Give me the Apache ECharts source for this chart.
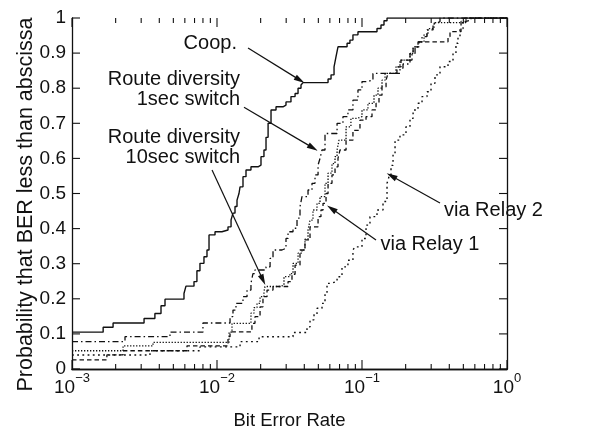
<!DOCTYPE html>
<html>
<head>
<meta charset="utf-8">
<script src="https://cdn.jsdelivr.net/npm/echarts@6/dist/echarts.min.js"></script>
<style>
  html, body { margin: 0; padding: 0; background: #fff; }
  #chart { width: 602px; height: 431px; }
</style>
</head>
<body>
<div id="chart"></div>
<script>
// Empirical CDFs of the bit error rate: each point is (BER where the step occurs, probability after the step)
const coopBer = [0.0010, 0.00164, 0.00192, 0.00314, 0.00373, 0.00411, 0.00438, 0.00592, 0.00611, 0.00694, 0.00727, 0.00763, 0.00813, 0.00853, 0.00881, 0.00969, 0.01081, 0.01191, 0.01250, 0.01289, 0.01331, 0.01374, 0.01418, 0.01442, 0.01511, 0.01585, 0.01715, 0.01918, 0.02011, 0.02108, 0.02178, 0.02251, 0.02358, 0.02553, 0.02851, 0.02991, 0.03237, 0.03455, 0.03622, 0.03796, 0.03918, 0.05833, 0.06116, 0.06415, 0.06620, 0.06830, 0.07890, 0.08257, 0.08661, 0.09380, 0.1269, 0.1352, 0.1418, 0.1488, 1.0];
const coopProb = [0.105, 0.119, 0.131, 0.144, 0.158, 0.18, 0.199, 0.215, 0.236, 0.249, 0.28, 0.301, 0.32, 0.339, 0.382, 0.391, 0.396, 0.405, 0.425, 0.444, 0.463, 0.481, 0.50, 0.519, 0.548, 0.567, 0.576, 0.581, 0.605, 0.624, 0.66, 0.70, 0.738, 0.747, 0.752, 0.761, 0.776, 0.785, 0.80, 0.809, 0.816, 0.826, 0.838, 0.861, 0.89, 0.918, 0.928, 0.937, 0.952, 0.961, 0.970, 0.980, 0.992, 1.0, 1.0];

const rd1Ber = [0.0010, 0.00232, 0.00474, 0.00800, 0.01230, 0.01289, 0.01352, 0.01511, 0.01611, 0.01715, 0.01770, 0.01828, 0.02178, 0.02323, 0.02434, 0.02806, 0.02991, 0.03090, 0.03344, 0.03563, 0.03736, 0.03855, 0.04244, 0.04521, 0.04742, 0.04977, 0.05134, 0.05298, 0.05558, 0.06730, 0.07390, 0.0800, 0.08661, 0.09380, 0.1000, 0.1083, 0.1190, 0.1828, 0.1918, 0.2143, 0.2213, 0.2322, 0.2434, 0.2594, 0.2808, 0.3090, 0.3290, 0.3451, 1.0];
const rd1Prob = [0.078, 0.092, 0.105, 0.131, 0.149, 0.168, 0.187, 0.206, 0.225, 0.244, 0.272, 0.282, 0.291, 0.315, 0.339, 0.344, 0.372, 0.391, 0.401, 0.43, 0.462, 0.491, 0.51, 0.529, 0.553, 0.581, 0.60, 0.624, 0.671, 0.70, 0.719, 0.738, 0.766, 0.795, 0.819, 0.823, 0.842, 0.857, 0.869, 0.880, 0.899, 0.918, 0.932, 0.947, 0.966, 0.985, 0.99, 1.0, 1.0];

const rd10Ber = [0.0010, 0.00225, 0.00362, 0.01211, 0.01269, 0.01715, 0.01799, 0.01888, 0.01981, 0.02108, 0.02143, 0.02718, 0.02897, 0.03183, 0.03344, 0.03622, 0.03855, 0.04043, 0.04244, 0.04380, 0.04592, 0.04894, 0.05134, 0.05558, 0.05833, 0.06209, 0.06516, 0.06730, 0.06941, 0.07762, 0.08388, 0.09245, 0.1000, 0.1099, 0.1210, 0.1289, 0.1374, 0.1442, 0.1716, 0.1828, 0.2143, 0.2251, 0.2434, 0.2678, 0.2851, 0.3142, 0.5215, 1.0];
const rd10Prob = [0.052, 0.066, 0.076, 0.105, 0.13, 0.159, 0.175, 0.187, 0.206, 0.22, 0.235, 0.239, 0.263, 0.272, 0.301, 0.33, 0.339, 0.37, 0.396, 0.424, 0.453, 0.472, 0.491, 0.529, 0.558, 0.585, 0.605, 0.624, 0.652, 0.69, 0.714, 0.719, 0.738, 0.757, 0.78, 0.80, 0.823, 0.842, 0.861, 0.880, 0.899, 0.918, 0.932, 0.952, 0.97, 0.987, 1.0, 1.0];

const relay1Ber = [0.0010, 0.00174, 0.00225, 0.00621, 0.01191, 0.01230, 0.01741, 0.01828, 0.01981, 0.02075, 0.02213, 0.02434, 0.03090, 0.03290, 0.03455, 0.03736, 0.04043, 0.04380, 0.04977, 0.05212, 0.05385, 0.05649, 0.05833, 0.06209, 0.06516, 0.06830, 0.07050, 0.07762, 0.08661, 0.09683, 0.1066, 0.1172, 0.1250, 0.1310, 0.1374, 0.1465, 0.1511, 0.1742, 0.1858, 0.2143, 0.2251, 0.2473, 0.3919, 0.4046, 0.4819, 0.5134, 0.5649, 1.0];
const relay1Prob = [0.026, 0.040, 0.052, 0.066, 0.092, 0.106, 0.13, 0.149, 0.177, 0.206, 0.225, 0.235, 0.249, 0.27, 0.296, 0.339, 0.368, 0.405, 0.434, 0.453, 0.472, 0.50, 0.529, 0.553, 0.576, 0.60, 0.624, 0.652, 0.68, 0.709, 0.719, 0.738, 0.757, 0.78, 0.804, 0.823, 0.842, 0.861, 0.880, 0.899, 0.918, 0.932, 0.947, 0.961, 0.99, 0.994, 1.0, 1.0];

const relay2Ber = [0.0010, 0.00345, 0.00763, 0.01442, 0.01950, 0.03344, 0.04175, 0.04380, 0.04668, 0.04894, 0.05298, 0.05558, 0.05738, 0.06017, 0.06730, 0.07278, 0.0800, 0.08661, 0.0894, 0.1000, 0.1066, 0.1135, 0.1269, 0.1396, 0.1488, 0.1535, 0.1585, 0.1637, 0.1690, 0.1828, 0.2011, 0.2143, 0.2251, 0.2434, 0.2594, 0.2808, 0.2992, 0.3187, 0.3451, 0.3919, 0.4243, 0.4446, 0.4592, 0.4742, 0.4977, 0.5134, 1.0];
const relay2Prob = [0.040, 0.052, 0.063, 0.078, 0.092, 0.104, 0.12, 0.14, 0.155, 0.173, 0.187, 0.215, 0.244, 0.249, 0.263, 0.291, 0.31, 0.339, 0.348, 0.372, 0.41, 0.434, 0.453, 0.477, 0.529, 0.548, 0.58, 0.614, 0.652, 0.667, 0.69, 0.714, 0.738, 0.757, 0.776, 0.79, 0.814, 0.838, 0.861, 0.876, 0.899, 0.928, 0.947, 0.97, 0.99, 1.0, 1.0];

// Axis tick values
const xMajorTicks = [0.001, 0.01, 0.1, 1];
const yTicks = [0, 0.1, 0.2, 0.3, 0.4, 0.5, 0.6, 0.7, 0.8, 0.9, 1];

// Curve annotations: label text, anchor in data units, and the arrow from the label to its curve
const labelTexts = ['Coop.', 'Route diversity\n1sec switch', 'Route diversity\n10sec switch', 'via Relay 1', 'via Relay 2'];
const labelAnchors = [[0.01373, 0.926], [0.01442, 0.795], [0.01442, 0.631], [0.1341, 0.356], [0.3677, 0.453]];
const labelAlign = ['right', 'right', 'right', 'left', 'left'];
const arrowFrom = [[0.01637, 0.9145], [0.01535, 0.746], [0.009243, 0.567], [0.1249, 0.3675], [0.3451, 0.473]];
const arrowTo = [[0.03732, 0.823], [0.04592, 0.630], [0.02075, 0.2536], [0.06163, 0.457], [0.1597, 0.550]];

const FONT = '"Liberation Sans", Arial, Helvetica, sans-serif';
const INK = '#111';
const MAJOR_LEN = 9, MINOR_LEN = 5, Y_LEN = 8;

const zip = (xs, ys) => xs.map((x, i) => [x, ys[i]]);

// minor decade positions 2..9 x 10^k
const xMinorTicks = [];
for (let k = -3; k < 0; k++) {
  for (let m = 2; m <= 9; m++) xMinorTicks.push(m * Math.pow(10, k));
}

const supLabel = v => {
  const e = Math.round(Math.log10(v));
  return '{b|10}{s|' + (e < 0 ? '\u2212' + (-e) : String(e)) + '}';
};

const xCommon = {
  type: 'log', logBase: 10, min: 0.001, max: 1,
  splitLine: { show: false },
  minorTick: { show: false },
  axisLine: { show: true, lineStyle: { color: INK, width: 1.3 } },
  axisTick: { show: false }
};
const yCommon = {
  type: 'value', min: 0, max: 1, interval: 0.1,
  splitLine: { show: false },
  axisLine: { show: true, lineStyle: { color: INK, width: 1.3 } },
  axisTick: { show: false }
};

const lineSeries = (name, xs, ys, type, width) => ({
  name, type: 'line', step: 'end', showSymbol: false, symbol: 'none',
  data: zip(xs, ys), silent: true, z: 3,
  lineStyle: { color: INK, width: width, type: type }
});

const chart = echarts.init(document.getElementById('chart'), null, { renderer: 'canvas' });

const option = {
  animation: false,
  backgroundColor: '#fff',
  grid: { left: 72, right: 95, top: 18, bottom: 62, containLabel: false, outerBoundsMode: 'none' },
  xAxis: [
    Object.assign({}, xCommon, {
      position: 'bottom',
      axisLabel: {
        margin: 8, formatter: supLabel, color: INK,
        rich: {
          b: { fontSize: 19, fontFamily: FONT, color: INK, lineHeight: 20, verticalAlign: 'bottom' },
          s: { fontSize: 13, fontFamily: FONT, color: INK, lineHeight: 14, verticalAlign: 'bottom', padding: [0, 0, 12, 0] }
        }
      },
      name: 'Bit Error Rate', nameLocation: 'middle', nameGap: 42, nameMoveOverlap: false,
      nameTextStyle: { fontSize: 18.5, fontFamily: FONT, color: INK }
    }),
    Object.assign({}, xCommon, { position: 'top', axisLabel: { show: false } })
  ],
  yAxis: [
    Object.assign({}, yCommon, {
      position: 'left',
      axisLabel: { margin: 6, fontSize: 19, fontFamily: FONT, color: INK, formatter: v => String(+v.toFixed(1)) },
      name: 'Probability that BER less than abscissa', nameLocation: 'middle', nameGap: 35, nameMoveOverlap: false,
      nameTextStyle: { fontSize: 21.5, fontFamily: FONT, color: INK, padding: [0, 22, 0, 0] }
    }),
    Object.assign({}, yCommon, { position: 'right', axisLabel: { show: false } })
  ],
  series: [
    Object.assign(lineSeries('Coop.', coopBer, coopProb, 'solid', 1.4), {
      markLine: {
        silent: true, animation: false,
        symbol: ['none', 'triangle'], symbolSize: [6, 11],
        label: { show: false },
        lineStyle: { color: INK, width: 1.2, type: 'solid' },
        emphasis: { disabled: true },
        data: arrowFrom.map((a, i) => [{ coord: a }, { coord: arrowTo[i] }])
      }
    }),
    lineSeries('Route diversity 1sec switch', rd1Ber, rd1Prob, [6, 3, 1.5, 3], 1.3),
    lineSeries('Route diversity 10sec switch', rd10Ber, rd10Prob, [1.3, 1.7], 1.3),
    lineSeries('via Relay 1', relay1Ber, relay1Prob, [4.5, 3], 1.3),
    lineSeries('via Relay 2', relay2Ber, relay2Prob, [1.8, 3.4], 1.4)
  ]
};

chart.setOption(option);

const toPx = (x, y) => chart.convertToPixel({ xAxisIndex: 0, yAxisIndex: 0 }, [x, y]);
const graphics = [];

// inward frame ticks, positioned through the axis scales
const tickLine = (x1, y1, x2, y2) => ({
  type: 'line', silent: true, z: 50,
  shape: { x1, y1, x2, y2 },
  style: { stroke: INK, lineWidth: 1.1 }
});
const addXTick = (v, len) => {
  const b = toPx(v, 0), t = toPx(v, 1);
  graphics.push(tickLine(b[0], b[1], b[0], b[1] - len));
  graphics.push(tickLine(t[0], t[1], t[0], t[1] + len));
};
xMajorTicks.forEach(v => addXTick(v, MAJOR_LEN));
xMinorTicks.forEach(v => addXTick(v, MINOR_LEN));
yTicks.forEach(p => {
  const l = toPx(0.001, p), r = toPx(1, p);
  graphics.push(tickLine(l[0], l[1], l[0] + Y_LEN, l[1]));
  graphics.push(tickLine(r[0], r[1], r[0] - Y_LEN, r[1]));
});

// curve labels at their data anchors
labelTexts.forEach((txt, i) => {
  const p = toPx(labelAnchors[i][0], labelAnchors[i][1]);
  graphics.push({
    type: 'text', x: p[0], y: p[1], silent: true, z: 60,
    style: {
      text: txt, fill: INK, font: '20px ' + FONT,
      align: labelAlign[i], verticalAlign: 'middle', lineHeight: 20
    }
  });
});
chart.setOption({ graphic: graphics });
</script>
</body>
</html>
